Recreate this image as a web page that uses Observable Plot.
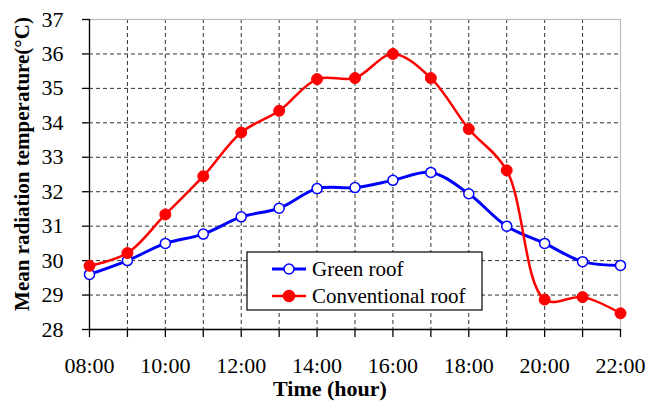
<!DOCTYPE html>
<html>
<head>
<meta charset="utf-8">
<script src="https://cdn.jsdelivr.net/npm/d3@7"></script>
<script src="https://cdn.jsdelivr.net/npm/@observablehq/plot@0.6"></script>
<style>
  html, body { margin: 0; padding: 0; background: #fff; }
  #chart { width: 651px; height: 403px; }
</style>
</head>
<body>
<div id="chart"></div>
<script>
// ---- data ----
const hours = [8, 9, 10, 11, 12, 13, 14, 15, 16, 17, 18, 19, 20, 21, 22];
const hourLabels = ["08:00", "09:00", "10:00", "11:00", "12:00", "13:00", "14:00", "15:00", "16:00", "17:00", "18:00", "19:00", "20:00", "21:00", "22:00"];
const greenRoof = [29.6, 30.0, 30.5, 30.77, 31.27, 31.52, 32.09, 32.12, 32.33, 32.56, 31.94, 31.0, 30.5, 29.97, 29.86];
const conventionalRoof = [29.85, 30.22, 31.34, 32.45, 33.72, 34.35, 35.27, 35.3, 36.0, 35.3, 33.82, 32.62, 28.87, 28.94, 28.47];
const yTicks = [28, 29, 30, 31, 32, 33, 34, 35, 36, 37];
const seriesNames = ["Green roof", "Conventional roof"];
const yTitle = "Mean radiation temperature(°C)";
const xTitle = "Time (hour)";

const green = hours.map((h, i) => ({hour: h, value: greenRoof[i]}));
const conv = hours.map((h, i) => ({hour: h, value: conventionalRoof[i]}));
const labelOf = h => { const i = hours.indexOf(h); return (h % 2 === 0) ? hourLabels[i] : ""; };

const font = "'Liberation Serif', 'Times New Roman', serif";
const BLUE = "#0000ff", RED = "#ff0000";

const plot = Plot.plot({
  width: 651,
  height: 403,
  marginLeft: 89,
  marginRight: 31,
  marginTop: 19,
  marginBottom: 74,
  style: {fontFamily: font, fontSize: "22px", color: "#000", background: "#fff", overflow: "visible"},
  x: {type: "linear", domain: [8, 22]},
  y: {domain: [28, 37]},
  marks: [
    Plot.gridX(hours.slice(1, -1), {stroke: "#333", strokeOpacity: 1, strokeWidth: 1, strokeDasharray: "4,3"}),
    Plot.gridY(yTicks.slice(1, -1), {stroke: "#333", strokeOpacity: 1, strokeWidth: 1, strokeDasharray: "4,3"}),
    Plot.frame({stroke: "#bdbdbd", strokeWidth: 1.2}),
    Plot.ruleX([8], {stroke: "#000", strokeWidth: 1.3}),
    Plot.ruleY([28], {stroke: "#000", strokeWidth: 1.3}),
    Plot.axisY(yTicks, {tickSize: 7, tickPadding: 19, label: null, fontSize: 22, strokeWidth: 1.3}),
    Plot.axisX(hours, {tickSize: 8, tickPadding: 20, label: null, fontSize: 22, tickFormat: labelOf, strokeWidth: 1.3}),
    Plot.line(green, {x: "hour", y: "value", stroke: BLUE, strokeWidth: 3, curve: "catmull-rom"}),
    Plot.dot(green, {x: "hour", y: "value", r: 5, fill: "#fff", stroke: BLUE, strokeWidth: 1.5}),
    Plot.line(conv, {x: "hour", y: "value", stroke: RED, strokeWidth: 2.5, curve: "catmull-rom"}),
    Plot.dot(conv, {x: "hour", y: "value", r: 5.5, fill: RED, stroke: RED, strokeWidth: 1})
  ]
});

document.getElementById("chart").appendChild(plot);

const svg = d3.select(plot);

// axis titles
svg.append("text")
  .attr("transform", "translate(29,164) rotate(-90)")
  .attr("text-anchor", "middle")
  .attr("font-family", font)
  .attr("font-weight", "bold")
  .attr("font-size", 21)
  .attr("fill", "#000")
  .text(yTitle);

svg.append("text")
  .attr("x", 330)
  .attr("y", 396)
  .attr("text-anchor", "middle")
  .attr("font-family", font)
  .attr("font-weight", "bold")
  .attr("font-size", 22)
  .attr("fill", "#000")
  .text(xTitle);

// legend box
const lg = svg.append("g").attr("transform", "translate(247,252)");
lg.append("rect").attr("x", 0).attr("y", 0).attr("width", 235).attr("height", 58)
  .attr("fill", "#fff").attr("stroke", "#000").attr("stroke-width", 1.2);
const items = [
  {name: seriesNames[0], color: BLUE, fill: "#fff", w: 3, r: 5},
  {name: seriesNames[1], color: RED, fill: RED, w: 2.5, r: 5.5}
];
items.forEach((it, i) => {
  const cy = 17 + i * 27;
  lg.append("line").attr("x1", 25).attr("x2", 59).attr("y1", cy).attr("y2", cy)
    .attr("stroke", it.color).attr("stroke-width", it.w);
  lg.append("circle").attr("cx", 42).attr("cy", cy).attr("r", it.r)
    .attr("fill", it.fill).attr("stroke", it.color).attr("stroke-width", 1.5);
  lg.append("text").attr("x", 65).attr("y", cy + 7)
    .attr("text-anchor", "start")
    .attr("font-family", font).attr("font-size", 21).attr("fill", "#000")
    .text(it.name);
});
</script>
</body>
</html>
